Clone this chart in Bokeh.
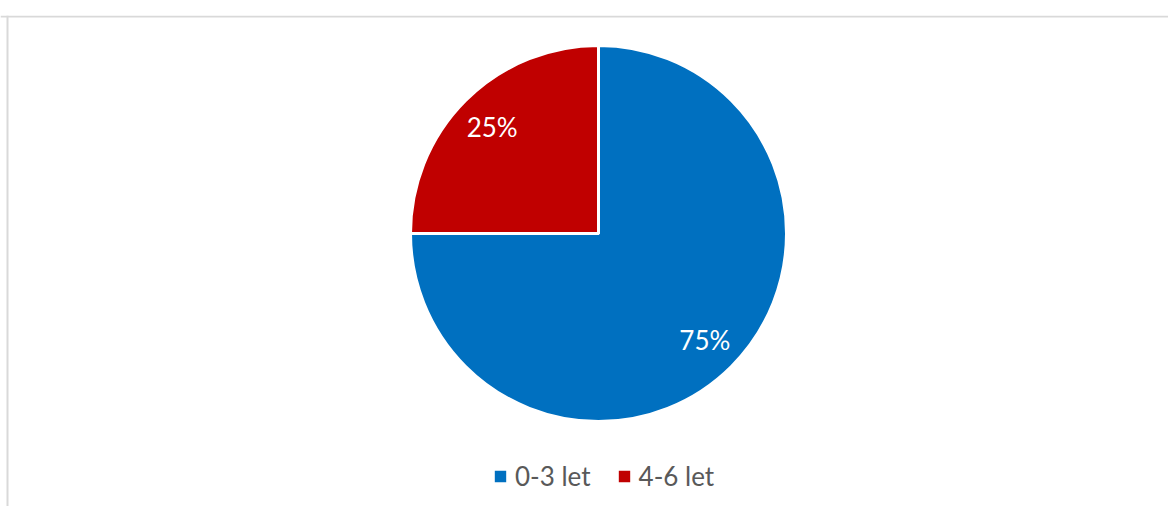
import math
from bokeh.plotting import figure
from bokeh.models import ColumnDataSource, Range1d, Span, Legend, LegendItem
from bokeh.embed import file_html
from bokeh.resources import INLINE

categories = ["0-3 let", "4-6 let"]
values = [75, 25]
colors = ["#0070C0", "#C00000"]

TOP = 15
W, H = 1168, 506 - TOP
cx, cy, R = 598, H - (233 - TOP), 188

total = sum(values)
starts, ends, lx, ly, labels = [], [], [], [], []
cum = 0.0
for v in values:
    a_end = math.pi / 2 - 2 * math.pi * cum / total
    cum += v
    a_start = math.pi / 2 - 2 * math.pi * cum / total
    starts.append(a_start)
    ends.append(a_end)
    mid = (a_start + a_end) / 2
    lx.append(cx + 0.8 * R * math.cos(mid))
    ly.append(cy + 0.8 * R * math.sin(mid))
    labels.append(f"{round(100 * v / total)}%")

src = ColumnDataSource(dict(cat=categories, val=values, color=colors,
                            start=starts, end=ends, lx=lx, ly=ly, label=labels))

p = figure(width=W, height=H + TOP, x_range=Range1d(0, W), y_range=Range1d(0, H),
           output_backend="svg", toolbar_location=None,
           min_border_left=0, min_border_right=0, min_border_top=TOP, min_border_bottom=0)
p.axis.visible = False
p.grid.visible = False
p.outline_line_color = None
p.background_fill_color = "white"
p.border_fill_color = "white"

p.add_layout(Span(location=7, dimension="height", line_color="#d9d9d9", line_width=2))
p.add_layout(Span(location=H - 1, dimension="width", line_color="#d9d9d9", line_width=2))

r = p.wedge(x=cx, y=cy, radius=R, start_angle="start", end_angle="end",
            fill_color="color", line_color="white", line_width=3, source=src)

p.text(x="lx", y="ly", text="label", source=src, text_color="white",
       text_font_size="26px", text_align="center", text_baseline="middle",
       text_font={"value": "Lato"})

items = [LegendItem(label=c, renderers=[r], index=i) for i, c in enumerate(categories)]
legend = Legend(items=items, orientation="horizontal", location=(491, 14),
                label_text_font="Lato", label_text_font_size="26px",
                label_text_color="#595959", glyph_width=18, glyph_height=18,
                label_standoff=6, spacing=24, padding=0, margin=0,
                border_line_color=None, background_fill_alpha=0)
p.add_layout(legend)

open("out.html", "w").write(file_html(p, INLINE))
